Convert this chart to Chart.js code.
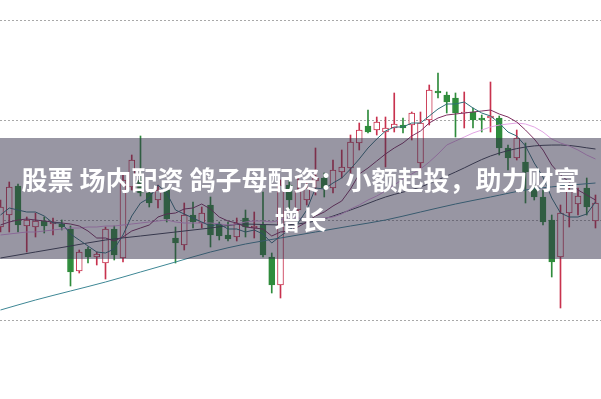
<!doctype html>
<html lang="zh">
  <head>
    <meta charset="utf-8">
    <title>股票 场内配资 鸽子母配资</title>
    <style>
      * {
        margin: 0;
        padding: 0;
      }
      body {
        background: #fff;
        width: 601px;
        height: 399px;
        overflow: hidden;
        position: relative;
      }
      .chartBox {
        position: absolute;
        left: 0;
        top: 0;
        width: 601px;
        height: 399px;
      }
      .banner {
        position: absolute;
        left: 0;
        top: 138px;
        width: 601px;
        height: 121px;
        background: rgba(49, 45, 71, 0.5);
        display: flex;
        align-items: center;
        justify-content: center;
      }
      .banner p {
        color: #fff;
        font-family: "Noto Sans CJK SC", sans-serif;
        font-weight: bold;
        font-size: 26px;
        line-height: 40px;
        text-align: center;
      }
    </style>
  </head>
  <body>
    <div class="chartBox">
      <canvas id="myChart" width="601" height="399"></canvas>
    </div>
    <div class="banner">
      <p>股票 场内配资 鸽子母配资：小额起投，助力财富<br>增长</p>
    </div>
    <script src="https://cdn.jsdelivr.net/npm/chart.js"></script>
    <script>
    // daily candles
    const opens = [19.3,20.5,23.4,19.4,19.3,19.9,19.6,19.6,19.1,14.9,
      17.1,16.3,15.7,19.1,16.2,23.3,24.0,22.7,22.0,23.0,
      18.2,17.5,20.5,19.7,21.5,19.6,18.5,18.3,20.2,19.2,
      19.5,16.3,13.5,23.5,21.0,22.0,23.9,24.2,23.2,24.8,
      25.2,27.7,29.4,29.0,28.8,29.2,29.5,29.5,25.7,30.0,
      32.9,32.5,32.2,30.7,30.8,30.2,30.2,30.2,27.2,26.2,
      25.8,23.2,22.3,20.0,16.3,20.7,21.6,23.2,19.9];
    const closes = [21.3,23.3,19.5,20.0,19.9,19.4,19.8,19.3,14.8,16.8,
      16.3,16.6,19.1,16.5,24.0,26.0,22.7,21.7,23.0,20.1,
      17.7,20.5,19.8,20.7,18.5,18.4,18.1,19.7,19.3,19.4,
      16.5,13.5,23.5,22.0,23.0,23.2,24.2,23.2,25.0,25.3,
      27.8,29.0,28.8,29.8,29.2,29.6,29.2,30.7,29.7,33.0,
      32.7,31.8,30.7,30.8,30.0,30.0,30.4,27.2,26.2,28.2,
      24.8,22.3,19.8,15.8,20.7,23.0,22.4,21.3,21.7];
    const highs = [22.0,23.8,23.6,20.3,20.7,20.3,20.2,20.0,19.4,17.0,
      17.3,16.8,19.3,19.4,24.5,26.5,28.4,23.0,23.5,23.2,
      19.3,21.7,21.8,21.3,22.3,19.8,19.8,20.2,21.0,20.8,
      22.8,16.7,24.0,24.3,24.2,23.7,27.2,24.7,26.0,27.0,
      28.5,29.7,31.0,30.3,30.3,32.7,30.2,30.8,30.8,33.5,
      34.7,32.8,32.7,32.8,31.2,30.5,33.8,30.4,27.5,29.0,
      27.7,23.7,23.0,20.5,21.5,23.7,23.2,24.2,22.5];
    const lows = [18.8,18.8,18.8,16.8,18.3,18.7,18.5,19.0,13.4,14.7,
      15.7,15.5,14.1,16.0,15.8,23.0,22.4,21.3,21.2,19.8,
      15.7,17.0,19.2,19.2,17.3,18.0,17.9,17.9,18.3,18.2,
      16.3,12.7,12.2,21.0,20.7,21.5,22.5,22.3,22.7,24.2,
      24.7,27.0,28.7,28.5,25.3,28.8,28.7,28.0,25.0,29.5,
      32.2,30.7,28.3,29.2,29.2,28.8,28.8,26.5,25.0,26.0,
      21.7,22.0,19.5,14.3,11.2,19.3,20.5,20.5,19.2];

    // moving average lines
    const ma5 = [20.5,21.2,21.0,20.8,20.8,20.4,19.7,19.7,18.6,18.0,
      17.4,16.8,16.7,17.1,18.5,20.4,21.7,22.2,23.5,22.7,
      21.0,20.6,20.2,19.8,19.4,19.6,19.1,19.1,18.8,19.0,
      18.6,17.7,18.4,19.0,19.7,21.0,23.2,23.1,23.7,24.2,
      25.1,26.1,27.2,28.1,28.9,29.3,29.3,29.7,29.7,30.4,
      31.1,31.6,31.6,31.8,31.2,30.7,30.4,29.7,28.8,28.4,
      27.4,25.7,24.3,22.2,20.7,20.3,20.3,20.6,21.8];
    const ma10 = [19.5,19.8,20.0,20.1,20.0,19.9,19.8,19.7,19.6,19.4,
      18.9,18.2,18.2,17.9,18.3,18.9,19.2,19.5,20.3,20.6,
      20.7,21.1,21.2,21.6,21.1,20.3,19.9,19.7,19.3,19.2,
      19.1,18.4,18.8,18.9,19.3,19.8,20.4,20.8,21.4,21.9,
      23.1,24.6,25.2,25.9,26.6,27.2,27.7,28.4,28.9,29.7,
      30.2,30.5,30.6,30.7,30.8,30.9,31.0,30.6,30.3,29.8,
      29.0,28.1,27.0,25.5,24.5,23.8,23.0,22.5,22.0];
    const ma20 = [18.5,18.6,18.7,18.8,18.8,18.9,19.0,19.1,19.2,19.2,
      19.3,19.3,19.4,19.4,19.5,19.6,19.7,19.8,19.9,20.0,
      19.8,19.7,19.7,19.7,19.7,19.6,19.5,19.6,19.8,19.9,
      19.9,19.8,20.0,20.3,20.2,20.1,20.1,20.2,20.3,20.6,
      21.1,21.5,22.0,22.4,22.9,23.5,24.1,24.6,25.1,25.8,
      26.6,27.5,27.9,28.3,28.7,29.0,29.3,29.5,29.6,29.7,
      29.6,29.3,28.8,28.1,27.7,27.4,27.0,26.5,26.1];
    const longIdx = [0,4,8,12,16,20,24,28,32,36,40,44,48,52,56,60,64,68];
    const ma30 = [16.2,16.8,17.4,18.0,18.4,18.8,19.2,19.6,19.5,19.9,21.0,22.3,23.3,24.8,26.4,27.3,27.5,27.1];
    const ma60 = [11.0,12.0,12.9,13.8,14.8,15.8,16.8,17.6,18.2,18.8,19.4,20.0,20.8,21.6,22.3,23.0,23.4,23.7];

    const RED = '#c8324e';
    const GREEN = '#2f8c3c';
    const up = opens.map((o, i) => closes[i] >= o);
    const candleColor = up.map(u => u ? RED : GREEN);

    const wicks = opens.map((o, i) => ({x: i, y: [lows[i], highs[i]]}));
    const bodies = opens.map((o, i) => ({x: i, y: [o, closes[i]]}));
    const pts = arr => arr.map((v, i) => ({x: i, y: v}));
    const longPts = arr => arr.map((v, k) => ({x: longIdx[k], y: v}));

    function maLine(data, color, smooth) {
      return {
        type: 'line',
        data,
        borderColor: color,
        borderWidth: 1,
        pointRadius: 0,
        tension: smooth ? 0.4 : 0,
        cubicInterpolationMode: smooth ? 'monotone' : 'default',
        order: 1,
        clip: false
      };
    }

    const config = {
      type: 'bar',
      data: {
        datasets: [
          maLine(pts(ma5), '#2f6e78', false),
          maLine(pts(ma10), '#7e2f60', false),
          maLine(pts(ma20), '#e2a4e4', false),
          maLine(longPts(ma30), '#3b4150', true),
          maLine(longPts(ma60), '#3e8795', true),
          {
            data: bodies,
            backgroundColor: up.map(u => u ? '#ffffff' : GREEN),
            borderColor: candleColor,
            borderWidth: 1,
            borderSkipped: false,
            barThickness: 6,
            grouped: false,
            order: 2
          },
          {
            data: wicks,
            backgroundColor: candleColor,
            borderWidth: 0,
            barThickness: 1,
            grouped: false,
            order: 3
          }
        ]
      },
      options: {
        responsive: false,
        animation: false,
        layout: {padding: {top: 20, bottom: 79, left: 0, right: 0}},
        plugins: {
          legend: {display: false},
          tooltip: {enabled: false}
        },
        scales: {
          x: {
            type: 'linear',
            min: -0.057,
            max: 68.63,
            offset: false,
            display: false
          },
          y: {
            min: 10,
            max: 40,
            ticks: {display: false, stepSize: 10},
            grid: {color: '#a8a8a8', drawTicks: false},
            border: {display: false, dash: [2, 2]}
          }
        }
      }
    };

    new Chart(document.getElementById('myChart'), config);
    </script>
  </body>
</html>
